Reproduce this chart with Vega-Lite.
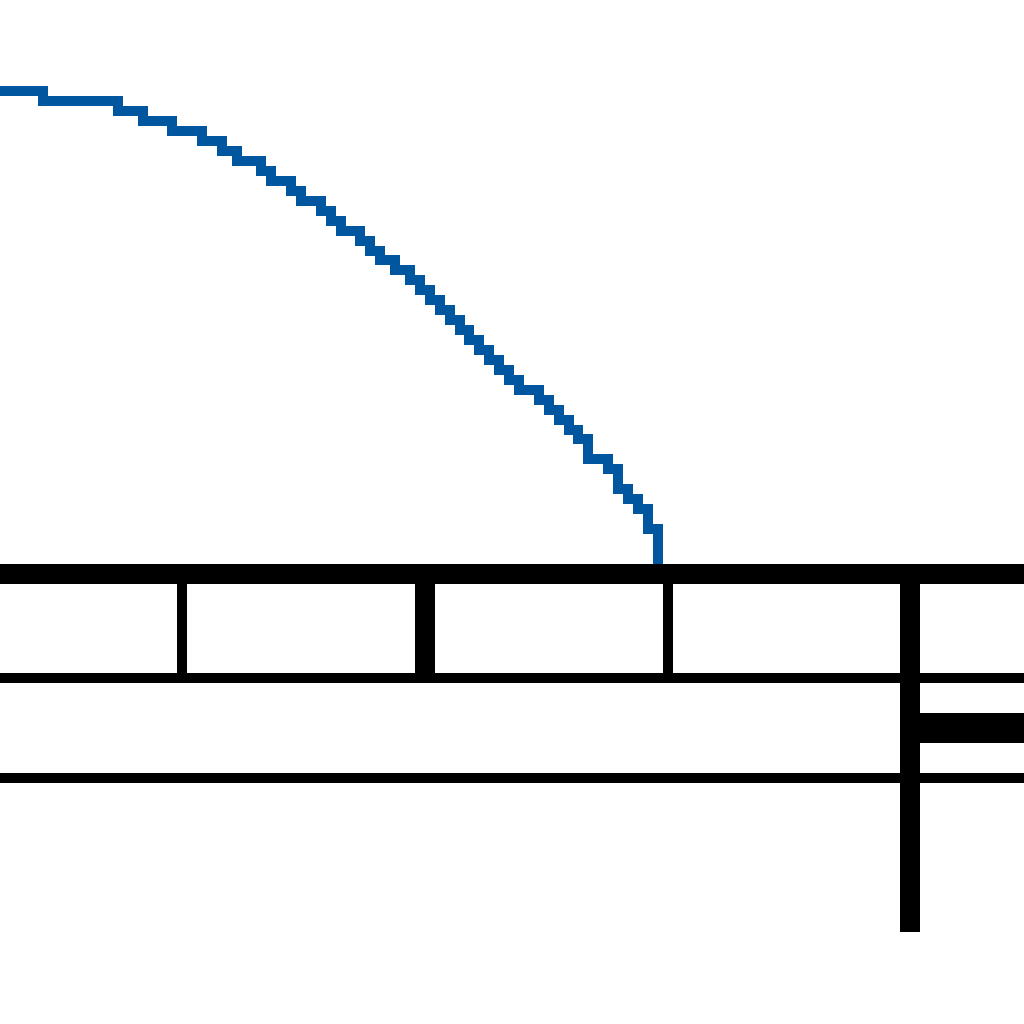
{
  "$schema": "https://vega.github.io/schema/vega-lite/v6.json",
  "width": 1024,
  "height": 1024,
  "padding": 0,
  "autosize": {"type": "none"},
  "background": "white",
  "config": {"view": {"stroke": null}},
  "datasets": {
    "curve": [
      {"t": 0, "s": 91}, {"t": 43, "s": 101}, {"t": 118, "s": 111}, {"t": 143, "s": 121},
      {"t": 172, "s": 131}, {"t": 202, "s": 141}, {"t": 222, "s": 151}, {"t": 237, "s": 161},
      {"t": 261, "s": 171}, {"t": 271, "s": 181}, {"t": 291, "s": 191}, {"t": 301, "s": 201},
      {"t": 321, "s": 211}, {"t": 331, "s": 221}, {"t": 341, "s": 231}, {"t": 360, "s": 241},
      {"t": 370, "s": 251}, {"t": 380, "s": 260}, {"t": 395, "s": 270}, {"t": 410, "s": 280},
      {"t": 420, "s": 290}, {"t": 430, "s": 300}, {"t": 440, "s": 310}, {"t": 450, "s": 320},
      {"t": 460, "s": 330}, {"t": 469, "s": 340}, {"t": 479, "s": 350}, {"t": 489, "s": 360},
      {"t": 499, "s": 370}, {"t": 509, "s": 380}, {"t": 519, "s": 390}, {"t": 539, "s": 400},
      {"t": 549, "s": 410}, {"t": 559, "s": 420}, {"t": 569, "s": 430}, {"t": 578, "s": 439},
      {"t": 588, "s": 459}, {"t": 608, "s": 469}, {"t": 618, "s": 489}, {"t": 628, "s": 499},
      {"t": 638, "s": 509}, {"t": 648, "s": 529}, {"t": 658, "s": 574}
    ],
    "hThin": [
      {"y": 678, "x": 0, "x2": 1024},
      {"y": 778, "x": 0, "x2": 1024}
    ],
    "hThick": [
      {"y": 574, "x": 0, "x2": 1024}
    ],
    "hHeavy": [
      {"y": 728, "x": 910, "x2": 1024}
    ],
    "vThin": [
      {"x": 182, "y": 574, "y2": 678},
      {"x": 668, "y": 574, "y2": 678}
    ],
    "vThick": [
      {"x": 425, "y": 574, "y2": 678},
      {"x": 910, "y": 574, "y2": 932}
    ]
  },
  "layer": [
    {
      "data": {"name": "curve"},
      "mark": {"type": "line", "interpolate": "step-after", "color": "#0057A0", "strokeWidth": 10, "strokeCap": "butt", "strokeJoin": "miter"},
      "encoding": {
        "x": {"field": "t", "type": "quantitative", "axis": null, "scale": {"domain": [0, 1024], "nice": false, "zero": false}},
        "y": {"field": "s", "type": "quantitative", "axis": null, "scale": {"domain": [0, 1024], "nice": false, "zero": false, "reverse": true}}
      }
    },
    {
      "data": {"name": "hThin"},
      "mark": {"type": "rule", "color": "black", "strokeWidth": 10, "strokeCap": "butt"},
      "encoding": {
        "y": {"field": "y", "type": "quantitative"},
        "x": {"field": "x", "type": "quantitative"},
        "x2": {"field": "x2"}
      }
    },
    {
      "data": {"name": "hThick"},
      "mark": {"type": "rule", "color": "black", "strokeWidth": 20, "strokeCap": "butt"},
      "encoding": {
        "y": {"field": "y", "type": "quantitative"},
        "x": {"field": "x", "type": "quantitative"},
        "x2": {"field": "x2"}
      }
    },
    {
      "data": {"name": "hHeavy"},
      "mark": {"type": "rule", "color": "black", "strokeWidth": 30, "strokeCap": "butt"},
      "encoding": {
        "y": {"field": "y", "type": "quantitative"},
        "x": {"field": "x", "type": "quantitative"},
        "x2": {"field": "x2"}
      }
    },
    {
      "data": {"name": "vThin"},
      "mark": {"type": "rule", "color": "black", "strokeWidth": 10, "strokeCap": "butt"},
      "encoding": {
        "x": {"field": "x", "type": "quantitative"},
        "y": {"field": "y", "type": "quantitative"},
        "y2": {"field": "y2"}
      }
    },
    {
      "data": {"name": "vThick"},
      "mark": {"type": "rule", "color": "black", "strokeWidth": 20, "strokeCap": "butt"},
      "encoding": {
        "x": {"field": "x", "type": "quantitative"},
        "y": {"field": "y", "type": "quantitative"},
        "y2": {"field": "y2"}
      }
    }
  ]
}
